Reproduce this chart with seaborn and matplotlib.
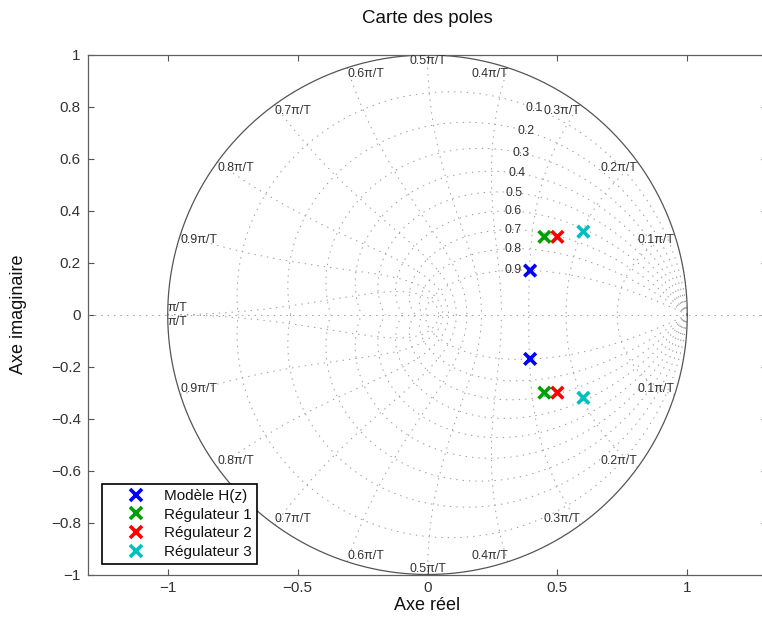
import numpy as np
import pandas as pd
import matplotlib
matplotlib.use("Agg")
import matplotlib.pyplot as plt
import seaborn as sns
from matplotlib.ticker import FuncFormatter

# ---- data -------------------------------------------------------------
series = ["Modèle H(z)", "Régulateur 1", "Régulateur 2", "Régulateur 3"]
pole_re = [0.395, 0.45, 0.50, 0.60]
pole_im = [0.17, 0.30, 0.30, 0.32]
colors = ["#0000ff", "#00a000", "#ff0000", "#00bfbf"]

zeta_values = [0.1, 0.2, 0.3, 0.4, 0.5, 0.6, 0.7, 0.8, 0.9]
zeta_labels = ["0.1", "0.2", "0.3", "0.4", "0.5", "0.6", "0.7", "0.8", "0.9"]
wn_factors = [0.1, 0.2, 0.3, 0.4, 0.5, 0.6, 0.7, 0.8, 0.9, 1.0]
wn_labels = ["0.1π/T", "0.2π/T", "0.3π/T", "0.4π/T", "0.5π/T",
             "0.6π/T", "0.7π/T", "0.8π/T", "0.9π/T", "π/T"]
xticks = [-1, -0.5, 0, 0.5, 1]
yticks = [-1, -0.8, -0.6, -0.4, -0.2, 0, 0.2, 0.4, 0.6, 0.8, 1]

rows = []
for name, re, im in zip(series, pole_re, pole_im):
    rows.append({"Re": re, "Im": im, "serie": name})
    rows.append({"Re": re, "Im": -im, "serie": name})
df = pd.DataFrame(rows)

# ---- style ------------------------------------------------------------
sns.set_theme(style="white")
plt.rcParams["font.family"] = ["Liberation Sans", "DejaVu Sans"]
plt.rcParams["lines.scale_dashes"] = False

fig = plt.figure(figsize=(7.62, 6.18), dpi=100)
ax = fig.add_axes([87.7 / 762, 43.5 / 618, 679.6 / 762, 519.5 / 618])

grid_kw = dict(color="#9a9a9a", lw=0.7, ls=(0, (1, 3.6)), zorder=1)

# damping curves
theta = np.linspace(0, np.pi, 400)
for z in zeta_values:
    m = np.tan(np.arcsin(z))
    zz = np.exp(theta * (-m + 1j))
    ax.plot(zz.real, zz.imag, **grid_kw)
    ax.plot(zz.real, -zz.imag, **grid_kw)

# natural frequency curves
zt = np.linspace(0, 1, 300)
for f in wn_factors:
    w = f * np.pi
    zz = np.exp(-zt * w) * np.exp(1j * w * np.sqrt(1 - zt ** 2))
    ax.plot(zz.real, zz.imag, **grid_kw)
    ax.plot(zz.real, -zz.imag, **grid_kw)

ax.axhline(0, **grid_kw)

# unit circle
phi = np.linspace(0, 2 * np.pi, 600)
ax.plot(np.cos(phi), np.sin(phi), color="#555555", lw=0.9, zorder=2)

lab_kw = dict(fontsize=8.9, color="#333333", zorder=3)

# zeta labels (at wn = 0.35 pi / T)
for z, lab in zip(zeta_values, zeta_labels):
    w = 0.35 * np.pi
    p = np.exp(-z * w) * np.exp(1j * w * np.sqrt(1 - z ** 2))
    ax.text(p.real, p.imag, lab, ha="center", va="center", **lab_kw)

# wn labels
for f, lab in zip(wn_factors, wn_labels):
    a = f * np.pi
    x, y = np.cos(a), np.sin(a)
    if f < 0.5:
        ha = "right"
    elif f > 0.5:
        ha = "left"
    else:
        ha = "center"
    if f == 1.0:
        ax.text(x, 0.004, lab, ha="left", va="bottom", **lab_kw)
        ax.text(x, -0.004, lab, ha="left", va="top", **lab_kw)
    else:
        ax.text(x, y, lab, ha=ha, va="top", **lab_kw)
        ax.text(x, -y, lab, ha=ha, va="bottom", **lab_kw)

# poles
sns.scatterplot(data=df, x="Re", y="Im", hue="serie", hue_order=series,
                palette=colors, marker="x", s=70, linewidth=2.6, ax=ax, zorder=5)

ax.set_xlim(-1.308, 1.308)
ax.set_ylim(-1, 1)
ax.set_xticks(xticks)
ax.set_yticks(yticks)


def fmt_tick(v, p):
    if abs(v) < 1e-9:
        return "0"
    s = "%g" % round(v, 2)
    return s.replace("-", "\u2212")


fmt = FuncFormatter(fmt_tick)
ax.xaxis.set_major_formatter(fmt)
ax.yaxis.set_major_formatter(fmt)
ax.tick_params(axis="both", which="major", direction="in", length=4.5, width=0.8,
               colors="#555555", labelcolor="#333333", labelsize=11,
               top=True, right=True, bottom=True, left=True, pad=5)
for s in ax.spines.values():
    s.set_color("#606060")
    s.set_linewidth(0.9)

ax.set_title("Carte des poles", fontsize=13.5, color="#111111", pad=23)
ax.set_xlabel("Axe réel", fontsize=13, color="#111111")
ax.set_ylabel("Axe imaginaire", fontsize=13, color="#111111")
ax.xaxis.set_label_coords(0.5, -0.0433)
ax.yaxis.set_label_coords(-0.0893, 0.5)

handles, labels = ax.get_legend_handles_labels()
for h in handles:
    try:
        h.set_markersize(8.5)
        h.set_markeredgewidth(2.6)
    except Exception:
        pass
leg = ax.legend(handles, labels, loc="lower left",
                bbox_to_anchor=(0.021, 0.020), borderaxespad=0,
                fontsize=11, frameon=True, fancybox=False, framealpha=1,
                edgecolor="black", borderpad=0.32, handlelength=3.76,
                handletextpad=0.0, labelspacing=0.31)
leg.get_frame().set_linewidth(1.2)
for t in leg.get_texts():
    t.set_color("#111111")

fig.savefig("out.png", dpi=100)
